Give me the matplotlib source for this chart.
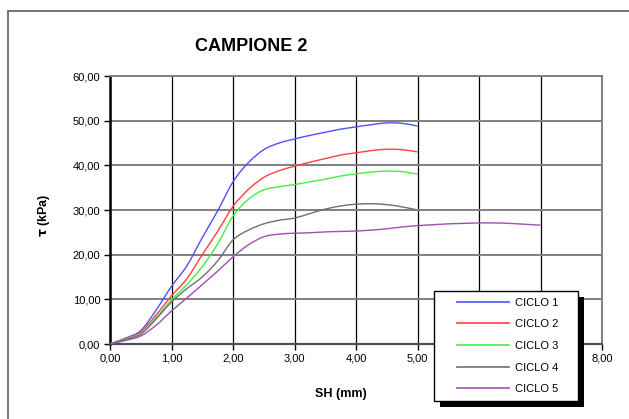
import matplotlib
matplotlib.use("Agg")
import matplotlib.pyplot as plt
from matplotlib.lines import Line2D
from matplotlib.patches import PathPatch, Rectangle
from matplotlib.path import Path
from matplotlib.ticker import FuncFormatter

plt.rcParams["font.family"] = ["Liberation Sans", "DejaVu Sans"]

# shear displacement (mm)
sh = [0, 0.25, 0.5, 0.75, 1.0, 1.25, 1.5, 1.75, 2.0, 2.25, 2.5, 2.75, 3.0,
      3.25, 3.5, 3.75, 4.0, 4.25, 4.5, 4.75, 5.0]
sh5 = sh + [5.25, 5.5, 5.75, 6.0, 6.25, 6.5, 6.75, 7.0]

ciclo1 = [0, 1.3, 3.0, 7.6, 12.9, 17.5, 23.8, 29.8, 36.3, 40.6, 43.5, 45.0, 45.9,
          46.7, 47.4, 48.1, 48.6, 49.1, 49.5, 49.4, 48.8]
ciclo2 = [0, 1.2, 2.7, 6.5, 10.8, 14.6, 20.0, 25.2, 30.8, 34.6, 37.3, 38.8, 39.8,
          40.7, 41.5, 42.3, 42.8, 43.3, 43.6, 43.5, 43.0]
ciclo3 = [0, 1.1, 2.4, 5.9, 9.9, 13.3, 17.3, 22.4, 28.6, 32.4, 34.5, 35.2, 35.7,
          36.3, 36.9, 37.6, 38.1, 38.5, 38.7, 38.6, 38.0]
ciclo4 = [0, 1.0, 2.2, 5.6, 9.4, 12.4, 15.0, 18.6, 23.3, 25.5, 26.9, 27.7, 28.2,
          29.2, 30.2, 30.9, 31.3, 31.4, 31.2, 30.7, 30.0]
ciclo5 = [0, 0.8, 1.8, 4.2, 7.4, 10.3, 13.3, 16.3, 19.5, 22.2, 24.0, 24.6, 24.8,
          24.9, 25.1, 25.2, 25.3, 25.5, 25.8, 26.2, 26.5, 26.7, 26.9, 27.0,
          27.1, 27.1, 27.0, 26.8, 26.6]

series = [
    ("CICLO 1", sh, ciclo1, "#5050ff"),
    ("CICLO 2", sh, ciclo2, "#ff4040"),
    ("CICLO 3", sh, ciclo3, "#40f040"),
    ("CICLO 4", sh, ciclo4, "#707070"),
    ("CICLO 5", sh5, ciclo5, "#a050b0"),
]


def smooth_path(x, y):
    """Excel-style smoothed line: Catmull-Rom segments as cubic Beziers."""
    pts = list(zip(x, y))
    verts = [pts[0]]
    codes = [Path.MOVETO]
    for i in range(len(pts) - 1):
        p0 = pts[i - 1] if i > 0 else pts[i]
        p1, p2 = pts[i], pts[i + 1]
        p3 = pts[i + 2] if i + 2 < len(pts) else pts[i + 1]
        c1 = (p1[0] + (p2[0] - p0[0]) / 6, p1[1] + (p2[1] - p0[1]) / 6)
        c2 = (p2[0] - (p3[0] - p1[0]) / 6, p2[1] - (p3[1] - p1[1]) / 6)
        verts += [c1, c2, p2]
        codes += [Path.CURVE4] * 3
    return Path(verts, codes)


W, H = 629, 419
fig = plt.figure(figsize=(W / 100, H / 100), dpi=100)

# outer chart frame (cut off at right/bottom like the reference)
fig.patches.append(Rectangle((8 / W, -0.1), 1.2, 1 - 11 / H + 0.1,
                             transform=fig.transFigure, fill=False,
                             edgecolor="#606060", lw=1.2, zorder=0))

ax = fig.add_axes([110 / W, 1 - 344 / H, 492 / W, 268 / H])

handles = []
for name, x, y, col in series:
    ax.add_patch(PathPatch(smooth_path(x, y), fill=False, edgecolor=col,
                           lw=1.0, zorder=3))
    handles.append(Line2D([], [], color=col, lw=1.2, label=name))

ax.set_xlim(0, 8)
ax.set_ylim(0, 60)
ax.set_xticks(range(0, 9))
ax.set_yticks(range(0, 61, 10))
fmt = FuncFormatter(lambda v, p: f"{v:.2f}".replace(".", ","))
ax.xaxis.set_major_formatter(fmt)
ax.yaxis.set_major_formatter(fmt)
ax.tick_params(direction="out", length=4, width=1, labelsize=8, color="black", pad=3)

# gridlines: horizontal grey, vertical black
ax.yaxis.grid(True, color="#808080", lw=1.4, zorder=1)
ax.xaxis.grid(True, color="black", lw=0.9, zorder=1)
ax.set_axisbelow(True)

ax.spines["left"].set_color("black")
ax.spines["left"].set_linewidth(1.8)
ax.spines["bottom"].set_color("#505050")
ax.spines["bottom"].set_linewidth(1.6)
ax.spines["top"].set_color("#808080")
ax.spines["top"].set_linewidth(1.4)
ax.spines["right"].set_color("#808080")
ax.spines["right"].set_linewidth(1.4)

ax.set_xlabel("SH (mm)", fontsize=9, fontweight="bold")
ax.xaxis.set_label_coords((341 - 110) / 492, (344 - 388) / 268)
ax.set_ylabel(r"$\mathbf{\tau}$ (kPa)", fontsize=9, fontweight="bold")
ax.yaxis.set_label_coords((52 - 110) / 492, 0.48)

fig.text(251 / W, 1 - 46 / H, "CAMPIONE 2", ha="center", va="center",
         fontsize=13, fontweight="bold")

# legend box with black drop shadow
lx0, ly0, lx1, ly1 = 434, 291, 578, 401
fig.patches.append(Rectangle(((lx0 + 6) / W, 1 - (ly1 + 6) / H),
                             (lx1 - lx0) / W, (ly1 - ly0) / H,
                             transform=fig.transFigure, facecolor="black",
                             edgecolor="none", zorder=4))
fig.patches.append(Rectangle((lx0 / W, 1 - ly1 / H),
                             (lx1 - lx0) / W, (ly1 - ly0) / H,
                             transform=fig.transFigure, facecolor="white",
                             edgecolor="black", lw=1.0, zorder=4.5))
leg = fig.legend(handles=handles, loc="center",
                 bbox_to_anchor=((lx0 + lx1) / 2 / W + 2 / W, 1 - (ly0 + ly1) / 2 / H),
                 bbox_transform=fig.transFigure, borderaxespad=0, borderpad=0,
                 fontsize=8, frameon=False, handlelength=4.6, handletextpad=0.6,
                 labelspacing=1.05)
leg.set_zorder(5)

fig.savefig("out.png", dpi=100)
